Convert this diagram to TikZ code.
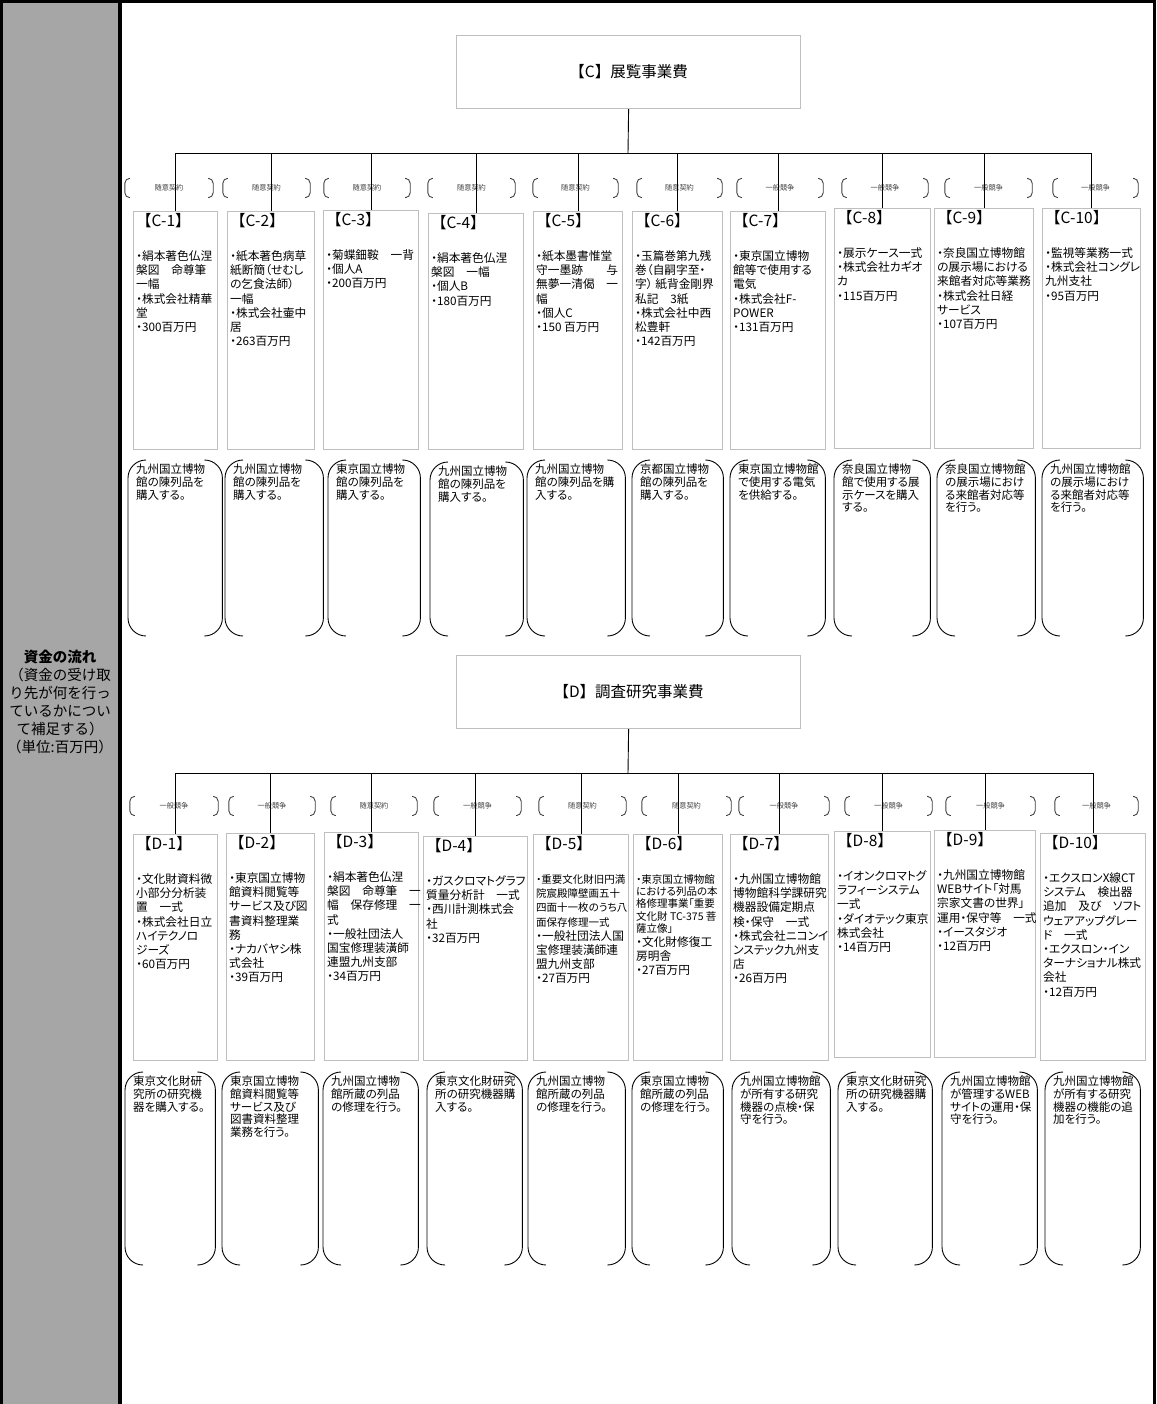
\documentclass[tikz,border=0pt]{standalone}
\usepackage{fontspec}
\setmainfont{Noto Sans CJK JP}[RawFeature=+palt]
\newfontfamily\plainjp{Noto Sans CJK JP}
\usepackage{tikz}
\usetikzlibrary{positioning}
\definecolor{panelgray}{RGB}{166,166,166}
\definecolor{boxgray}{RGB}{191,191,191}
\definecolor{kindgray}{RGB}{64,64,64}
\newcommand{\boxtitle}[1]{{\plainjp\fontsize{15.5}{18}\selectfont #1}\\[20pt]}
\newcommand{\smalltxt}{\fontsize{10.5}{12}\selectfont}

\begin{document}
\begin{tikzpicture}[x=1pt, y=-1pt,
    headbox/.style={draw=boxgray, line width=1.2pt, anchor=north west,
      minimum width=344pt, minimum height=73pt,
      font=\plainjp\fontsize{15.5}{18}\selectfont},
    itembox/.style={draw=boxgray, line width=1.2pt, anchor=north west},
    itemtext/.style={anchor=north west, align=left, inner xsep=3pt, inner ysep=2pt,
      font=\fontsize{11.7}{14.2}\selectfont},
    desctext/.style={anchor=north west, align=left, inner xsep=8pt, inner ysep=4pt,
      font=\fontsize{11.5}{12.6}\selectfont},
    kindbox/.style={minimum height=19pt, inner sep=0pt, text=kindgray,
      font=\fontsize{7.2}{8}\selectfont},
    paneltext/.style={align=center, inner sep=0pt,
      font=\plainjp\fontsize{14.5}{18}\selectfont},
    treeline/.style={line width=0.9pt},
    brline/.style={line width=0.9pt, rounded corners=#1},
  ]
  % frame and side panel
  \useasboundingbox (0,0) rectangle (1156,1404);
  \fill[panelgray] (0,0) rectangle (120,1404);
  \draw[line width=3pt] (1.5,1404) -- (1.5,1.5) -- (1154.5,1.5) -- (1154.5,1404);
  \draw[line width=3.5pt] (120,0) -- (120,1404);
  \node[paneltext] (flow) at (60,702) {{\bfseries 資金の流れ}\\（資金の受け取\\り先が何を行っ\\ているかについ\\て補足する）\\（単位:百万円）};

  % C block
  \node[headbox] (hC) at (456,35) {【C】展覧事業費};
  \coordinate (barC) at (628,153);

  \node[kindbox, minimum width=88pt] (kc1) at (169,188) {随意契約};
  \node[kindbox, minimum width=87pt] (kc2) at (266.5,188) {随意契約};
  \node[kindbox, minimum width=86pt] (kc3) at (367,188) {随意契約};
  \node[kindbox, minimum width=87pt] (kc4) at (471.5,188) {随意契約};
  \node[kindbox, minimum width=85pt] (kc5) at (575.5,188) {随意契約};
  \node[kindbox, minimum width=85pt] (kc6) at (679.5,188) {随意契約};
  \node[kindbox, minimum width=86pt] (kc7) at (780,188) {一般競争};
  \node[kindbox, minimum width=86pt] (kc8) at (885,188) {一般競争};
  \node[kindbox, minimum width=87pt] (kc9) at (988.5,188) {一般競争};
  \node[kindbox, minimum width=85pt] (kc10) at (1095.5,188) {一般競争};

  \node[itembox, minimum width=84pt, minimum height=238pt] (c1) at (133,211) {};
  \node[itemtext] (c1t) at (c1.north west) {\boxtitle{【C-1】}・絹本著色仏涅\\槃図　命尊筆\\一幅\\・株式会社精華\\堂\\・300百万円};
  \node[itembox, minimum width=87pt, minimum height=238pt] (c2) at (227,211) {};
  \node[itemtext] (c2t) at (c2.north west) {\boxtitle{【C-2】}・紙本著色病草\\紙断簡（せむし\\の乞食法師）\\一幅\\・株式会社壷中\\居\\・263百万円};
  \node[itembox, minimum width=95pt, minimum height=239pt] (c3) at (323,210) {};
  \node[itemtext] (c3t) at (c3.north west) {\boxtitle{【C-3】}・菊蝶鈿鞍　一背\\・個人A\\・200百万円};
  \node[itembox, minimum width=95pt, minimum height=236pt] (c4) at (428,213) {};
  \node[itemtext] (c4t) at (c4.north west) {\boxtitle{【C-4】}・絹本著色仏涅\\槃図　一幅\\・個人B\\・180百万円};
  \node[itembox, minimum width=89pt, minimum height=238pt] (c5) at (533,211) {};
  \node[itemtext] (c5t) at (c5.north west) {\boxtitle{【C-5】}・紙本墨書惟堂\\守一墨跡　　与\\無夢一清偈　一\\幅\\・個人C\\・150 百万円};
  \node[itembox, minimum width=90pt, minimum height=238pt] (c6) at (632,211) {};
  \node[itemtext] (c6t) at (c6.north west) {\boxtitle{【C-6】}・玉篇巻第九残\\巻（自嗣字至・\\字） 紙背金剛界\\私記　3紙\\・株式会社中西\\松豊軒\\・142百万円};
  \node[itembox, minimum width=95pt, minimum height=238pt] (c7) at (730,211) {};
  \node[itemtext] (c7t) at (c7.north west) {\boxtitle{【C-7】}・東京国立博物\\館等で使用する\\電気\\・株式会社F-\\POWER\\・131百万円};
  \node[itembox, minimum width=96pt, minimum height=240pt] (c8) at (834,208) {};
  \node[itemtext] (c8t) at (c8.north west) {\boxtitle{【C-8】}・展示ケース一式\\・株式会社カギオ\\カ\\・115百万円};
  \node[itembox, minimum width=99pt, minimum height=240pt] (c9) at (934,208) {};
  \node[itemtext] (c9t) at (c9.north west) {\boxtitle{【C-9】}・奈良国立博物館\\の展示場における\\来館者対応等業務\\・株式会社日経\\サービス\\・107百万円};
  \node[itembox, minimum width=98pt, minimum height=240pt] (c10) at (1042,208) {};
  \node[itemtext] (c10t) at (c10.north west) {\boxtitle{【C-10】}・監視等業務一式\\・株式会社コングレ\\九州支社\\・95百万円};

  \coordinate (botC) at (0,636);
  \node[desctext, text width=78pt] (dc1) at (128,460) {九州国立博物\\館の陳列品を\\購入する。};
  \node[desctext, text width=82pt] (dc2) at (225,460) {九州国立博物\\館の陳列品を\\購入する。};
  \node[desctext, text width=76pt] (dc3) at (328,460) {東京国立博物\\館の陳列品を\\購入する。};
  \node[desctext, text width=77pt] (dc4) at (430,462) {九州国立博物\\館の陳列品を\\購入する。};
  \node[desctext, text width=82pt] (dc5) at (527,460) {九州国立博物\\館の陳列品を購\\入する。};
  \node[desctext, text width=75pt] (dc6) at (632,460) {京都国立博物\\館の陳列品を\\購入する。};
  \node[desctext, text width=79pt] (dc7) at (730,460) {東京国立博物館\\で使用する電気\\を供給する。};
  \node[desctext, text width=80pt] (dc8) at (834,460) {奈良国立博物\\館で使用する展\\示ケースを購入\\する。};
  \node[desctext, text width=82pt] (dc9) at (937,460) {奈良国立博物館\\の展示場におけ\\る来館者対応等\\を行う。};
  \node[desctext, text width=85pt] (dc10) at (1042,460) {九州国立博物館\\の展示場におけ\\る来館者対応等\\を行う。};

  % D block
  \node[headbox] (hD) at (456,655) {【D】調査研究事業費};
  \coordinate (barD) at (628,773);

  \node[kindbox, minimum width=88pt] (kd1) at (174,806) {一般競争};
  \node[kindbox, minimum width=86pt] (kd2) at (272,806) {一般競争};
  \node[kindbox, minimum width=86pt] (kd3) at (374,806) {随意契約};
  \node[kindbox, minimum width=87pt] (kd4) at (477.5,806) {一般競争};
  \node[kindbox, minimum width=87pt] (kd5) at (582.5,806) {随意契約};
  \node[kindbox, minimum width=89pt] (kd6) at (686.5,806) {随意契約};
  \node[kindbox, minimum width=90pt] (kd7) at (784,806) {一般競争};
  \node[kindbox, minimum width=87pt] (kd8) at (888.5,806) {一般競争};
  \node[kindbox, minimum width=89pt] (kd9) at (990.5,806) {一般競争};
  \node[kindbox, minimum width=83pt] (kd10) at (1096.5,806) {一般競争};

  \node[itembox, minimum width=84pt, minimum height=226pt] (d1) at (133,834) {};
  \node[itemtext] (d1t) at (d1.north west) {\boxtitle{【D-1】}・文化財資料微\\小部分分析装\\置　一式\\・株式会社日立\\ハイテクノロ\\ジーズ\\・60百万円};
  \node[itembox, minimum width=88pt, minimum height=227pt] (d2) at (226,833) {};
  \node[itemtext] (d2t) at (d2.north west) {\boxtitle{【D-2】}・東京国立博物\\館資料閲覧等\\サービス及び図\\書資料整理業\\務\\・ナカバヤシ株\\式会社\\・39百万円};
  \node[itembox, minimum width=94pt, minimum height=228pt] (d3) at (324,832) {};
  \node[itemtext] (d3t) at (d3.north west) {\boxtitle{【D-3】}・絹本著色仏涅\\槃図　命尊筆　一\\幅　保存修理　一\\式\\・一般社団法人\\国宝修理装潢師\\連盟九州支部\\・34百万円};
  \node[itembox, minimum width=104pt, minimum height=224pt] (d4) at (423,836) {};
  \node[itemtext] (d4t) at (d4.north west) {\boxtitle{【D-4】}・ガスクロマトグラフ\\質量分析計　一式\\・西川計測株式会\\社\\・32百万円};
  \node[itembox, minimum width=95pt, minimum height=226pt] (d5) at (533,834) {};
  \node[itemtext] (d5t) at (d5.north west) {\boxtitle{【D-5】}{\smalltxt ・重要文化財旧円満}\\{\smalltxt 院宸殿障壁画五十}\\{\smalltxt 四面十一枚のうち八}\\{\smalltxt 面保存修理一式}\\・一般社団法人国\\宝修理装潢師連\\盟九州支部\\・27百万円};
  \node[itembox, minimum width=89pt, minimum height=226pt] (d6) at (633,834) {};
  \node[itemtext] (d6t) at (d6.north west) {\boxtitle{【D-6】}{\smalltxt ・東京国立博物館}\\[-2pt]{\smalltxt における列品の本}\\[-2pt]{\smalltxt 格修理事業「重要}\\[-2pt]{\smalltxt 文化財 TC-375 菩}\\[-2pt]{\smalltxt 薩立像」}\\・文化財修復工\\房明舎\\・27百万円};
  \node[itembox, minimum width=98pt, minimum height=226pt] (d7) at (730,834) {};
  \node[itemtext] (d7t) at (d7.north west) {\boxtitle{【D-7】}・九州国立博物館\\博物館科学課研究\\機器設備定期点\\検・保守　一式\\・株式会社ニコンイ\\ンステック九州支\\店\\・26百万円};
  \node[itembox, minimum width=96pt, minimum height=226pt] (d8) at (834,831) {};
  \node[itemtext] (d8t) at (d8.north west) {\boxtitle{【D-8】}・イオンクロマトグ\\ラフィーシステム\\一式\\・ダイオテック東京\\株式会社\\・14百万円};
  \node[itembox, minimum width=101pt, minimum height=227pt] (d9) at (934,830) {};
  \node[itemtext] (d9t) at (d9.north west) {\boxtitle{【D-9】}・九州国立博物館\\WEBサイト「対馬\\宗家文書の世界」\\運用・保守等　一式\\・イースタジオ\\・12百万円};
  \node[itembox, minimum width=105pt, minimum height=227pt] (d10) at (1040,833) {};
  \node[itemtext] (d10t) at (d10.north west) {\boxtitle{【D-10】}・エクスロンX線CT\\システム　検出器\\追加　及び　ソフト\\ウェアアップグレー\\ド　一式\\・エクスロン・イン\\ターナショナル株式\\会社\\・12百万円};

  \coordinate (botD) at (0,1265);
  \node[desctext, text width=74pt] (dd1) at (125,1072) {東京文化財研\\究所の研究機\\器を購入する。};
  \node[desctext, text width=80pt] (dd2) at (222,1072) {東京国立博物\\館資料閲覧等\\サービス及び\\図書資料整理\\業務を行う。};
  \node[desctext, text width=79pt] (dd3) at (323,1072) {九州国立博物\\館所蔵の列品\\の修理を行う。};
  \node[desctext, text width=79pt] (dd4) at (427,1072) {東京文化財研究\\所の研究機器購\\入する。};
  \node[desctext, text width=81pt] (dd5) at (528,1072) {九州国立博物\\館所蔵の列品\\の修理を行う。};
  \node[desctext, text width=75pt] (dd6) at (632,1072) {東京国立博物\\館所蔵の列品\\の修理を行う。};
  \node[desctext, text width=82pt] (dd7) at (732,1072) {九州国立博物館\\が所有する研究\\機器の点検・保\\守を行う。};
  \node[desctext, text width=78pt] (dd8) at (838,1072) {東京文化財研究\\所の研究機器購\\入する。};
  \node[desctext, text width=79pt] (dd9) at (942,1072) {九州国立博物館\\が管理するWEB\\サイトの運用・保\\守を行う。};
  \node[desctext, text width=79pt] (dd10) at (1045,1072) {九州国立博物館\\が所有する研究\\機器の機能の追\\加を行う。};

  % brackets
  \foreach \i in {1,...,10} {
    \draw[brline=5pt, draw=kindgray] ([xshift=5pt]kc\i.north west) -- (kc\i.north west) -- (kc\i.south west) -- ++(5,0);
    \draw[brline=5pt, draw=kindgray] ([xshift=-5pt]kc\i.north east) -- (kc\i.north east) -- (kc\i.south east) -- ++(-5,0);
    \draw[brline=5pt, draw=kindgray] ([xshift=5pt]kd\i.north west) -- (kd\i.north west) -- (kd\i.south west) -- ++(5,0);
    \draw[brline=5pt, draw=kindgray] ([xshift=-5pt]kd\i.north east) -- (kd\i.north east) -- (kd\i.south east) -- ++(-5,0);
    \draw[brline=18pt] ([xshift=18pt]dc\i.north west) -- (dc\i.north west) -- (dc\i.west |- botC) -- ++(18,0);
    \draw[brline=18pt] ([xshift=-18pt]dc\i.north east) -- (dc\i.north east) -- (dc\i.east |- botC) -- ++(-18,0);
    \draw[brline=18pt] ([xshift=18pt]dd\i.north west) -- (dd\i.north west) -- (dd\i.west |- botD) -- ++(18,0);
    \draw[brline=18pt] ([xshift=-18pt]dd\i.north east) -- (dd\i.north east) -- (dd\i.east |- botD) -- ++(-18,0);
  }

  % tree
  \draw[treeline] (hC.south) -- (barC);
  \draw[treeline] (hD.south) -- (barD);
  \foreach \i in {1,...,10} {
    \draw[treeline] (barC) -| (c\i.north);
    \draw[treeline] (barD) -| (d\i.north);
  }
\end{tikzpicture}
\end{document}
